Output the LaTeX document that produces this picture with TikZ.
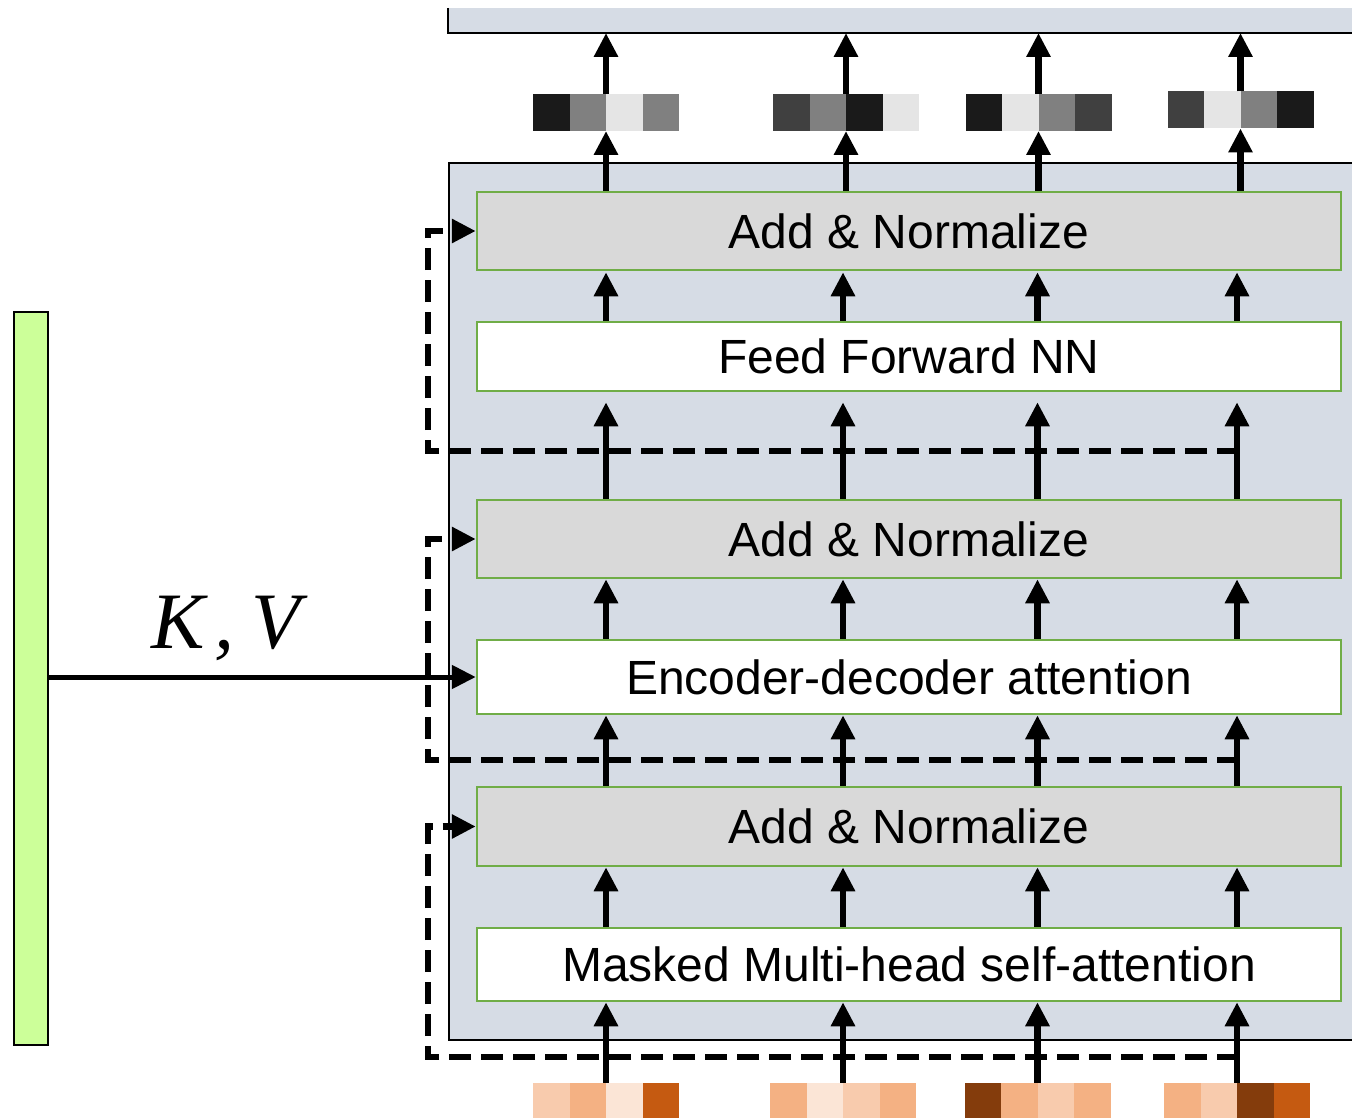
\documentclass[tikz,border=0pt]{standalone}
\usepackage{fontspec}
\setmainfont{Liberation Sans}
\newfontfamily\kvfont{Liberation Serif}
\usetikzlibrary{arrows.meta}
\definecolor{panel}{HTML}{D6DCE5}
\definecolor{boxgreen}{HTML}{70AD47}
\definecolor{normfill}{HTML}{D9D9D9}
\definecolor{encgreen}{HTML}{CCFF99}
\definecolor{gA}{HTML}{1A1A1A}
\definecolor{gB}{HTML}{404040}
\definecolor{gC}{HTML}{808080}
\definecolor{gD}{HTML}{E5E5E5}
\definecolor{oA}{HTML}{FBE5D6}
\definecolor{oB}{HTML}{F8CBAD}
\definecolor{oC}{HTML}{F4B183}
\definecolor{oD}{HTML}{C55A11}
\definecolor{oE}{HTML}{843C0C}
\tikzset{
  layer/.style={draw=boxgreen, line width=2.5pt, minimum width=864pt, inner sep=0pt,
    font=\fontsize{48}{56}\selectfont},
  cellbox/.style={minimum width=36.5pt, minimum height=37pt, inner sep=0pt, outer sep=0pt},
  vecbox/.style={minimum width=146pt, minimum height=37pt, inner sep=0pt, outer sep=0pt},
  arr/.style={line width=6.5pt, -{Triangle[length=24pt,width=23pt]}},
  res/.style={line width=6.5pt, dash pattern=on 22pt off 10pt, -{Triangle[length=24pt,width=23pt]}}
}
\newcommand\vecfour[7]{%
  \node[cellbox,fill=#4] at (#2-54.75,#3) {};
  \node[cellbox,fill=#5] at (#2-18.25,#3) {};
  \node[cellbox,fill=#6] at (#2+18.25,#3) {};
  \node[cellbox,fill=#7] at (#2+54.75,#3) {};
  \node[vecbox] (#1) at (#2,#3) {};
}
\begin{document}
\begin{tikzpicture}[x=1pt,y=-1pt]
\useasboundingbox (0,0) rectangle (1352,1118);
\clip (0,0) rectangle (1352,1118);

% next layer bar (top, cropped)
\node[fill=panel, minimum width=920pt, minimum height=25pt, inner sep=0pt, anchor=south west] (nextlayer) at (448,33) {};
\draw[line width=2.5pt] (448,8) -- (448,33) -- (1370,33);

% decoder panel
\fill[panel] (449,163) rectangle (1370,1040);
\draw[line width=2.5pt] (1370,163) -- (449,163) -- (449,1040) -- (1370,1040);

% encoder output bar
\node[draw=black, line width=2pt, fill=encgreen, minimum width=34pt, minimum height=733pt, inner sep=0pt] (encbar) at (31,678.5) {};

% layers
\node[layer, fill=normfill, minimum height=78pt] (an1) at (909,231) {Add \& Normalize};
\node[layer, fill=white, minimum height=69pt] (ffn) at (909,356.5) {Feed Forward NN};
\node[layer, fill=normfill, minimum height=78pt] (an2) at (909,539) {Add \& Normalize};
\node[layer, fill=white, minimum height=74pt] (enc) at (909,677) {Encoder-decoder attention};
\node[layer, fill=normfill, minimum height=79pt] (an3) at (909,826.5) {Add \& Normalize};
\node[layer, fill=white, minimum height=73pt] (msk) at (909,964.5) {Masked Multi-head self-attention};

% output vectors
\vecfour{out1}{606}{112.5}{gA}{gC}{gD}{gC}
\vecfour{out2}{846}{112.5}{gB}{gC}{gA}{gD}
\vecfour{out3}{1038.5}{112.5}{gA}{gD}{gC}{gB}
\vecfour{out4}{1240.5}{110}{gB}{gD}{gC}{gA}

% input vectors
\vecfour{in1}{606}{1101}{oB}{oC}{oA}{oD}
\vecfour{in2}{843}{1101}{oC}{oA}{oB}{oC}
\vecfour{in3}{1037.5}{1101}{oE}{oC}{oB}{oC}
\vecfour{in4}{1237}{1101}{oC}{oB}{oE}{oD}

% residual (dashed) connections
\coordinate (r1a) at (1239,1057);
\coordinate (r1b) at (428,1057);
\draw[res] (r1a) -- (r1b) |- (an3.west);
\coordinate (r2a) at (1239,760);
\coordinate (r2b) at (428,760);
\draw[res] (r2a) -- (r2b) |- (an2.west);
\coordinate (r3a) at (1239,451);
\coordinate (r3b) at (428,451);
\draw[res] (r3a) -- (r3b) |- (an1.west);

% vertical data-flow arrows
\foreach \v in {1,2,3,4}{
  \draw[arr] (in\v.north) -- (in\v.north |- msk.south);
  \draw[arr] (in\v.north |- msk.north) -- (in\v.north |- an3.south);
  \draw[arr] (in\v.north |- an3.north) -- (in\v.north |- enc.south);
  \draw[arr] (in\v.north |- enc.north) -- (in\v.north |- an2.south);
  \draw[arr, shorten >=10pt] (in\v.north |- an2.north) -- (in\v.north |- ffn.south);
  \draw[arr, shorten >=1pt] (in\v.north |- ffn.north) -- (in\v.north |- an1.south);
  \draw[arr] (out\v.south |- an1.north) -- (out\v.south);
  \draw[arr] (out\v.north) -- (out\v.north |- nextlayer.south);
}

% K,V connection
\draw[arr, line width=5pt] (encbar.east |- enc.west) -- (enc.west);
\node[anchor=base, font=\kvfont\itshape\fontsize{80}{90}\selectfont, inner sep=0pt] (kvlabel) at (226,648) {K\kern0.12em,\kern0.22em V};
\end{tikzpicture}
\end{document}
